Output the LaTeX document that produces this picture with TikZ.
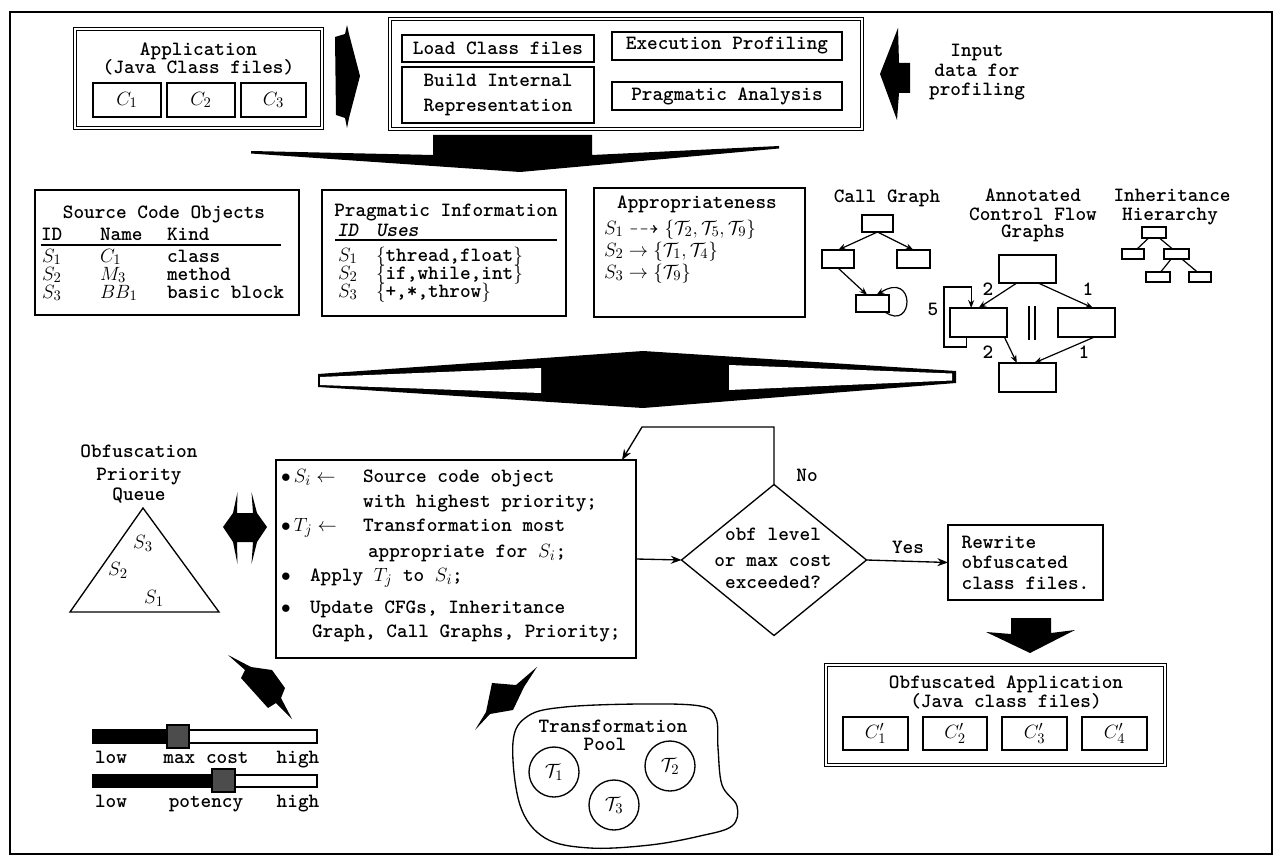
\documentclass[tikz,border=0pt]{standalone}
\usepackage{amssymb}
\usetikzlibrary{fit,arrows.meta,calc,shapes.geometric}
\begin{document}
\begin{tikzpicture}[x=0.75pt,y=-0.75pt,
  every node/.style={font=\fontsize{15.2}{14}\selectfont\ttfamily\bfseries, inner sep=0pt, outer sep=0pt},
  sz/.style 2 args={minimum width=#1*0.75pt, minimum height=#2*0.75pt},
  bx/.style={draw, line width=1.2pt},
  dbx/.style={draw, double, double distance=1.8pt, line width=0.9pt},
  arr/.style={-{Stealth[length=8pt,width=6pt]}, line width=1pt},
  sarr/.style={-{Stealth[length=6pt,width=4.5pt]}, line width=0.9pt},
  thin/.style={line width=0.9pt},
  lbl/.style={anchor=base},
  lw/.style={anchor=base west},
]
\useasboundingbox (0,0) rectangle (1276,859);
\draw[line width=1.2pt] (10,12) rectangle (1272,854);

% ---------- top row ----------
\node[dbx, sz={247}{99}] (app) at (198.5,78.5) {};
\node[lbl] (appt1) at (198.5,56) {Application};
\node[lbl] (appt2) at (198.5,74) {(Java Class files)};
\node[bx, sz={68}{34}] (c1) at (127,100) {$C_1$};
\node[bx, sz={68}{34}] (c2) at (201,100) {$C_2$};
\node[bx, sz={65}{34}] (c3) at (273.5,100) {$C_3$};

\fill (335,37) -- (345,34) -- (347,25) -- (349,34) -- (360,76) -- (349,118) -- (347,128) -- (345,118) -- (336,115) -- cycle;

\node[dbx, sz={472}{110}] (mid) at (626,74) {};
\node[bx, sz={192}{27}] (load) at (498,48.5) {Load Class files};
\node[bx, sz={192}{56}, align=center] (build) at (498,95) {Build Internal\\[5pt]Representation};
\node[bx, sz={230}{28}] (exec) at (727,46) {Execution Profiling};
\node[bx, sz={230}{28}] (prag) at (727,96) {Pragmatic Analysis};

\fill (880,74) -- (898,28) -- (899,63) -- (910,63) -- (910,93) -- (899,93) -- (897,120) -- cycle;
\node[lbl] (in1) at (977,57) {Input};
\node[lbl] (in2) at (977,77) {data for};
\node[lbl] (in3) at (977,96) {profiling};

\fill (251,151) -- (433,155) -- (433,135) -- (592,135) -- (592,155) -- (779,146) -- (779,148.5) -- (520,172) -- (251,153.5) -- cycle;

% ---------- second row ----------
\node[bx, sz={264}{125}] (sco) at (167,252.5) {};
\node[lbl] (scot) at (164,219) {Source Code Objects};
\node[lw] (scoh1) at (41,240) {ID};
\node[lw] (scoh2) at (100,240) {Name};
\node[lw] (scoh3) at (167,240) {Kind};
\draw[thin] (41,245) -- (281,245);
\node[lw] (sa1) at (42,262) {$S_1$};
\node[lw] (sb1) at (100,262) {$C_1$};
\node[lw] (sc1) at (167,262) {class};
\node[lw] (sa2) at (42,280) {$S_2$};
\node[lw] (sb2) at (100,280) {$M_3$};
\node[lw] (sc2) at (167,280) {method};
\node[lw] (sa3) at (42,298) {$S_3$};
\node[lw] (sb3) at (100,298) {$BB_1$};
\node[lw] (sc3) at (167,298) {basic block};

\node[bx, sz={244}{126}] (pinf) at (444,253) {};
\node[lbl] (pinft) at (446,216) {Pragmatic Information};
\node[lw] (ph1) at (337,236) {\itshape ID};
\node[lw] (ph2) at (376,236) {\itshape Uses};
\draw[thin] (335,240) -- (557,240);
\node[lw] (pa1) at (338,261) {$S_1$};
\node[lw] (pb1) at (376,261) {$\{$thread,float$\}$};
\node[lw] (pa2) at (338,279) {$S_2$};
\node[lw] (pb2) at (376,279) {$\{$if,while,int$\}$};
\node[lw] (pa3) at (338,297) {$S_3$};
\node[lw] (pb3) at (376,297) {$\{$+,*,throw$\}$};

\node[bx, sz={211}{129}] (appr) at (699.5,252.5) {};
\node[lbl] (apprt) at (697,209) {Appropriateness};
\node[lw] (ap1) at (604,234) {$S_1 \dashrightarrow \{\mathcal{T}_2,\mathcal{T}_5,\mathcal{T}_9\}$};
\node[lw] (ap2) at (604,256) {$S_2 \rightarrow \{\mathcal{T}_1,\mathcal{T}_4\}$};
\node[lw] (ap3) at (604,278) {$S_3 \rightarrow \{\mathcal{T}_9\}$};

% call graph
\node[lbl] (cgtit) at (887,203) {Call Graph};
\node[bx, sz={31}{17}] (cgt) at (877.5,223.5) {};
\node[bx, sz={32}{18}] (cgl) at (838,259) {};
\node[bx, sz={33}{18}] (cgr) at (913.5,259) {};
\node[bx, sz={33}{17}] (cgb) at (872.5,303.5) {};
\draw[sarr] (cgt.south) -- (cgl.north);
\draw[sarr] (cgt.south) -- (cgr.north);
\draw[sarr] (cgl.south) -- ([xshift=-4pt]cgb.north);
\draw[sarr] ([xshift=-3pt]cgb.south east) .. controls (914,332) and (916,270) .. ([xshift=3pt]cgb.north);

% annotated CFG
\node[lbl] (ac1) at (1033,202) {Annotated};
\node[lbl] (ac2) at (1033,220) {Control Flow};
\node[lbl] (ac3) at (1033,238) {Graphs};
\node[bx, sz={57}{28}] (acT) at (1027.5,269) {};
\node[bx, sz={57}{29}] (acL) at (978.5,322.5) {};
\node[bx, sz={57}{29}] (acR) at (1086.5,322.5) {};
\node[bx, sz={57}{29}] (acB) at (1027.5,377.5) {};
\draw[sarr] ([xshift=-8pt]acT.south) -- (acL.north);
\draw[sarr] ([xshift=8pt]acT.south) -- ([xshift=5pt]acR.north);
\draw[sarr] ([xshift=-2pt]acL.south east) -- ([xshift=-8pt]acB.north);
\draw[sarr] ([xshift=6pt]acR.south) -- ([xshift=5pt]acB.north);
\coordinate (acl1) at (944,347);
\coordinate (acl2) at (944,287);
\draw[sarr] ([xshift=-9pt]acL.south) |- (acl1) -- (acl2) -| ([xshift=-5.5pt]acL.north);
\node (n2a) at (988,289) {2};
\node (n1a) at (1088,289) {1};
\node (n2b) at (988,352) {2};
\node (n1b) at (1084,352) {1};
\node (n5) at (933,309) {5};
\draw[thin] (1029,306) -- (1029,340);
\draw[thin] (1035,306) -- (1035,340);

% inheritance
\node[lbl] (ih1) at (1172,202) {Inheritance};
\node[lbl] (ih2) at (1170,220) {Hierarchy};
\node[bx, sz={24}{11}] (ihT) at (1154,232.5) {};
\node[bx, sz={22}{10}] (ihL) at (1133,254) {};
\node[bx, sz={25}{10}] (ihM) at (1176.5,254) {};
\node[bx, sz={24}{10}] (ihA) at (1158,277) {};
\node[bx, sz={22}{10}] (ihB) at (1200,277) {};
\draw[thin] ([xshift=-4pt]ihT.south) -- ([xshift=3pt]ihL.north);
\draw[thin] ([xshift=4pt]ihT.south) -- ([xshift=-3pt]ihM.north);
\draw[thin] ([xshift=-4pt]ihM.south) -- ([xshift=2pt]ihA.north);
\draw[thin] ([xshift=4pt]ihM.south) -- ([xshift=-2pt]ihB.north);

% big middle arrow
\fill (318,374) -- (643,351) -- (956,371) -- (956,383) -- (643,408) -- (318,387) -- cycle;
\fill[white] (320,377) -- (541,368) -- (541,393) -- (320,385) -- cycle;
\fill[white] (729,365) -- (952,373.5) -- (952,380.5) -- (729,390) -- cycle;

% ---------- bottom ----------
\node[lbl] (oq1) at (139,457) {Obfuscation};
\node[lbl] (oq2) at (139,480) {Priority};
\node[lbl] (oq3) at (139,500) {Queue};
\draw[line width=1pt] (143,508) -- (219,612) -- (70,612) -- cycle;
\node (q3) at (143,543) {$S_3$};
\node (q2) at (118,570) {$S_2$};
\node (q1) at (154,598) {$S_1$};

\fill (223,527) -- (233,513) -- (237.5,492) -- (237,513) -- (253,513) -- (251.5,492) -- (257,513) -- (267,527) -- (257,542) -- (251.5,564) -- (253,542) -- (237,542) -- (237.5,564) -- (233,542) -- cycle;

\node[bx, sz={360}{198}] (alg) at (456,559) {};
\node[lw] (l1a) at (281,482) {$\bullet\,S_i \leftarrow$};
\node[lw] (l1b) at (363,482) {Source code object};
\node[lw] (l2) at (363,507) {with highest priority;};
\node[lw] (l3a) at (281,531) {$\bullet\,T_j \leftarrow$};
\node[lw] (l3b) at (363,531) {Transformation most};
\node[lw] (l4) at (368,557) {appropriate for $S_i$;};
\node[lw] (l5) at (281,581) {\makebox[21.75pt][l]{$\bullet$}Apply $T_j$ to $S_i$;};
\node[lw] (l6) at (281,613) {\makebox[21.75pt][l]{$\bullet$}Update CFGs, Inheritance};
\node[lw] (l7) at (312,637) {Graph, Call Graphs, Priority;};

\node[draw, diamond, sz={185}{151}, line width=1pt] (dia) at (774,560) {};
\node[lbl] (d1) at (773,540) {obf level};
\node[lbl] (d2) at (773,566) {or max cost};
\node[lbl] (d3) at (773,588) {exceeded?};
\draw[arr] (alg.east) -- (dia.west);
\coordinate (lp1) at (774,427);
\coordinate (lp2) at (642,427);
\coordinate (lp3) at (622,460);
\draw[arr] (dia.north) -- (lp1) -- (lp2) -- (lp3);
\node (no) at (807,475) {No};
\node (yes) at (908,547) {Yes};

\node[bx, sz={155}{75}, align=left, font=\fontsize{15.2}{15.4}\selectfont\ttfamily\bfseries] (rw) at (1025.5,562.5) {Rewrite\\obfuscated\\class files.};
\draw[arr] (dia.east) -- (rw.west);

\fill (1011,618) -- (1051,618) -- (1051,633) -- (1075,630) -- (1030,653) -- (986,632) -- (1011,634) -- cycle;

\node[dbx, sz={339}{100}] (oapp) at (995.5,715) {};
\node[lbl] (oat1) at (1006,688) {Obfuscated Application};
\node[lbl] (oat2) at (1006,707) {(Java class files)};
\node[bx, sz={65}{33}] (d1b) at (875.5,733.5) {$C'_1$};
\node[bx, sz={64}{33}] (d2b) at (955,733.5) {$C'_2$};
\node[bx, sz={65}{33}] (d3b) at (1034.5,733.5) {$C'_3$};
\node[bx, sz={65}{33}] (d4b) at (1114.5,733.5) {$C'_4$};

% sliders
\draw[line width=1pt] (93,730) rectangle (317,743);
\fill (93,730) rectangle (167,743);
\draw[line width=1pt, fill=black!70] (167,725) rectangle (189,748);
\node[lbl] (s1l) at (111,763) {low};
\node[lbl] (s1m) at (206,763) {max cost};
\node[lbl] (s1h) at (298,763) {high};
\draw[line width=1pt] (93,775) rectangle (317,787);
\fill (93,775) rectangle (212,787);
\draw[line width=1pt, fill=black!70] (212,769) rectangle (235,792);
\node[lbl] (s2l) at (111,807) {low};
\node[lbl] (s2m) at (206,807) {potency};
\node[lbl] (s2h) at (298,807) {high};

\fill (241,678) -- (245,670) -- (228,655) -- (251,667) -- (272,670) -- (285,688) -- (281,698) -- (292,719) -- (276,703) -- (268,708) -- cycle;
\fill (492,683) -- (516,685) -- (537,667) -- (524,687) -- (513,710) -- (490,714) -- (475,730) -- (486,712) -- cycle;

% transformation pool
\draw[line width=1pt] plot[smooth cycle, tension=0.6] coordinates {(513,742) (528,716) (565,707) (640,704) (700,706) (716,718) (718,748) (722,785) (737,806) (732,826) (700,836) (650,845) (590,848) (545,838) (520,805)};
\node[lbl] (tp1) at (613,732) {Transformation};
\node[lbl] (tp2) at (605,750) {Pool};
\node[draw, circle, minimum size=50*0.75pt, line width=1pt] (t1) at (554,772) {$\mathcal{T}_1$};
\node[draw, circle, minimum size=50*0.75pt, line width=1pt] (t2) at (670,766) {$\mathcal{T}_2$};
\node[draw, circle, minimum size=50*0.75pt, line width=1pt] (t3) at (614,805) {$\mathcal{T}_3$};
\end{tikzpicture}
\end{document}
